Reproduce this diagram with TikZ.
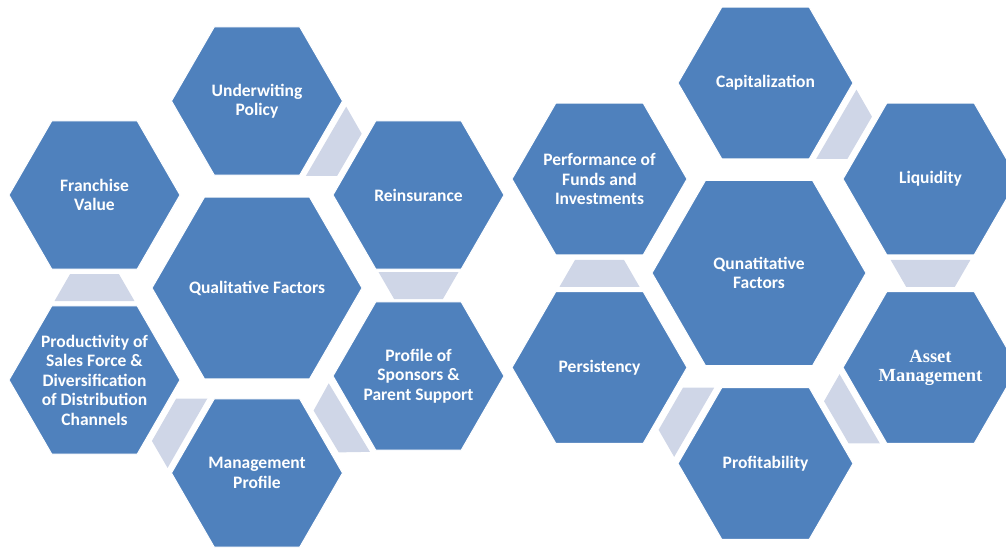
\documentclass[tikz,border=0pt]{standalone}
\usepackage{fontspec}
\setmainfont{Carlito}
\newfontfamily\serifbold{Liberation Serif}
\usetikzlibrary{shapes.geometric,calc}
\definecolor{hexblue}{HTML}{4F81BD}
\definecolor{linkgray}{HTML}{CFD6E7}
% light trapezoid in the gap between two outer hexagons, wide side at #1
\newcommand{\hexlink}[2]{%
  \coordinate (lk-m) at ($(#1.center)!0.5!(#2.center)$);
  \coordinate (lk-l) at ($(lk-m)!13.5pt!(#1.center)$);
  \coordinate (lk-s) at ($(lk-m)!13.5pt!(#2.center)$);
  \fill[link] ($(lk-l)!40pt!90:(#2.center)$) -- ($(lk-l)!40pt!-90:(#2.center)$)
    -- ($(lk-s)!24.4pt!-90:(#2.center)$) -- ($(lk-s)!24.4pt!90:(#2.center)$) -- cycle;
}

\begin{document}
\begin{tikzpicture}[
 x=1pt,y=-1pt,
 hexa/.style={regular polygon,regular polygon sides=6,inner sep=0pt,fill=hexblue,draw=white,line width=1pt,minimum size=171pt},
 bighex/.style={hexa,minimum size=210pt},
 lbl/.style={align=center,text=white,inner sep=0pt,font=\bfseries\fontsize{17.5}{19.5}\selectfont},
 link/.style={fill=linkgray}
]
\useasboundingbox (0,0) rectangle (1006,547);

% qualitative cluster
\node[bighex] (qual) at (257,288) {};
\node[hexa] (uw) at (257,101) {};
\node[hexa] (fv) at (94.5,195) {};
\node[hexa] (re) at (418.5,195) {};
\node[hexa] (ps) at (418.5,376) {};
\node[hexa] (mp) at (257,473) {};
\node[hexa] (pr) at (94.5,380) {};
\node[lbl] (qual-t) at (qual) {Qualitative Factors};
\node[lbl] (uw-t) at (uw) {Underwiting\\Policy};
\node[lbl] (fv-t) at (fv) {Franchise\\Value};
\node[lbl] (re-t) at (re) {Reinsurance};
\node[lbl] (ps-t) at (ps) {Profile of\\Sponsors \&\\Parent Support};
\node[lbl] (mp-t) at (mp) {Management\\Profile};
\node[lbl] (pr-t) at (pr) {Productivity of\\Sales Force \&\\Diversification\\of Distribution\\Channels};
\hexlink{uw}{re}
\hexlink{re}{ps}
\hexlink{ps}{mp}
\hexlink{mp}{pr}
\hexlink{pr}{fv}

% quantitative cluster
\begin{scope}[hexa/.append style={minimum size=175pt},bighex/.append style={minimum size=214pt}]
\node[bighex] (quan) at (759,273) {};
\node[hexa] (cap) at (765.5,83) {};
\node[hexa] (pf) at (599.5,179) {};
\node[hexa] (liq) at (930.5,179) {};
\node[hexa] (am) at (930.5,367.5) {};
\node[hexa] (prof) at (765.5,463.5) {};
\node[hexa] (per) at (599.5,367.5) {};
\end{scope}
\node[lbl] (quan-t) at (quan) {Qunatitative\\Factors};
\node[lbl] (cap-t) at (cap) {Capitalization};
\node[lbl] (pf-t) at (pf) {Performance of\\Funds and\\Investments};
\node[lbl] (liq-t) at (liq) {Liquidity};
\node[lbl,font=\serifbold\bfseries\fontsize{18.5}{19}\selectfont] (am-t) at (am) {Asset\\Management};
\node[lbl] (prof-t) at (prof) {Profitability};
\node[lbl] (per-t) at (per) {Persistency};
\hexlink{cap}{liq}
\hexlink{liq}{am}
\hexlink{am}{prof}
\hexlink{prof}{per}
\hexlink{per}{pf}
\end{tikzpicture}
\end{document}
